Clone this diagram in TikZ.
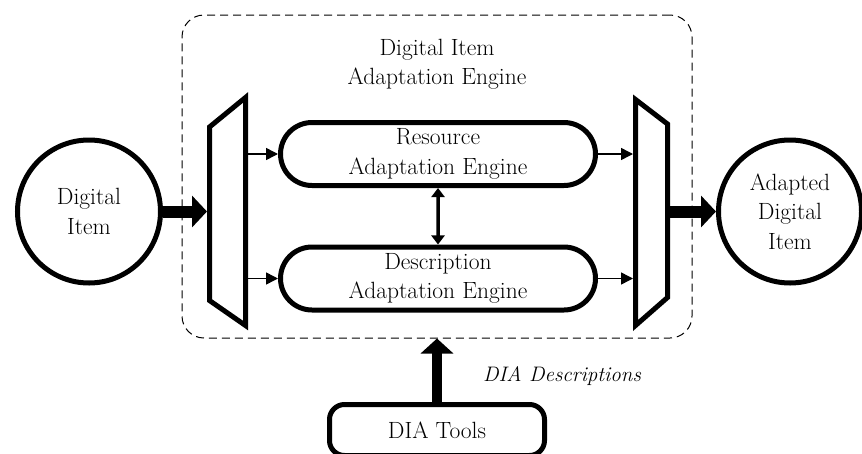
\documentclass[tikz,border=0pt]{standalone}
\usepackage{fontspec}
\usepackage{tikz}
\usetikzlibrary{positioning,arrows.meta,shapes.misc}

\begin{document}
\begin{tikzpicture}[x=1pt, y=-1pt, font=\fontsize{23.5}{29.5}\selectfont,
  item/.style={draw, circle, line width=5pt, minimum size=143pt, align=center, inner sep=0pt},
  engine/.style={draw, rounded rectangle, line width=5pt, minimum width=315pt, minimum height=63pt, align=center, inner sep=0pt},
  thinarrow/.style={line width=1.5pt, -{Triangle[length=12pt,width=12pt]}},
  fatarrow/.style={line width=12pt, -{Triangle[length=15pt,width=31pt]}}]

\clip (0,0) rectangle (862,453);
\fill[white] (0,0) rectangle (862,453);

% engine frame
\node[draw, dash pattern=on 8pt off 5pt, line width=1pt, rounded corners=22pt, minimum width=510pt, minimum height=323pt] (dia) at (437,176.5) {};
\node[align=center] (title) at (437,64) {Digital Item\\Adaptation Engine};

% items
\node[item] (di) at (89,211.5) {Digital\\Item};
\node[item] (adi) at (790,211.5) {Adapted\\Digital\\Item};

% engines
\node[engine] (rae) at (438,154) {Resource\\Adaptation Engine};
\node[engine] (dae) at (438,278.5) {Description\\Adaptation Engine};

% split and merge
\draw[line width=5pt] (209.5,127) -- (245.5,97.5) -- (245.5,325.5) -- (209.5,300.5) -- cycle;
\draw[line width=5pt] (635.5,99.5) -- (667.5,124) -- (667.5,297.5) -- (635.5,325.5) -- cycle;
\coordinate (splitin) at (207,211.5);
\coordinate (split1) at (246,154);
\coordinate (split2) at (246,278.5);
\coordinate (merge1) at (633,154);
\coordinate (merge2) at (633,278.5);
\coordinate (mergeout) at (670,211.5);

\draw[fatarrow] (di.east) -- (splitin);
\draw[fatarrow] (mergeout) -- (adi.west);
\draw[thinarrow] (split1) -- (rae.west);
\draw[thinarrow] (split2) -- (dae.west);
\draw[thinarrow] (rae.east) -- (merge1);
\draw[thinarrow] (dae.east) -- (merge2);
\draw[line width=3.5pt, {Triangle[length=9pt,width=13pt]}-{Triangle[length=9pt,width=13pt]}] (rae) -- (dae);

% tools
\node[draw, rounded corners=15pt, line width=5pt, minimum width=215pt, minimum height=51pt] (tools) at (437,430) {DIA Tools};
\draw[line width=10pt, -{Triangle[length=15pt,width=32pt]}] (tools) -- (dia.south);
\node[font=\fontsize{21}{29}\selectfont\itshape] (desc) at (562,376) {DIA Descriptions};

\end{tikzpicture}
\end{document}
